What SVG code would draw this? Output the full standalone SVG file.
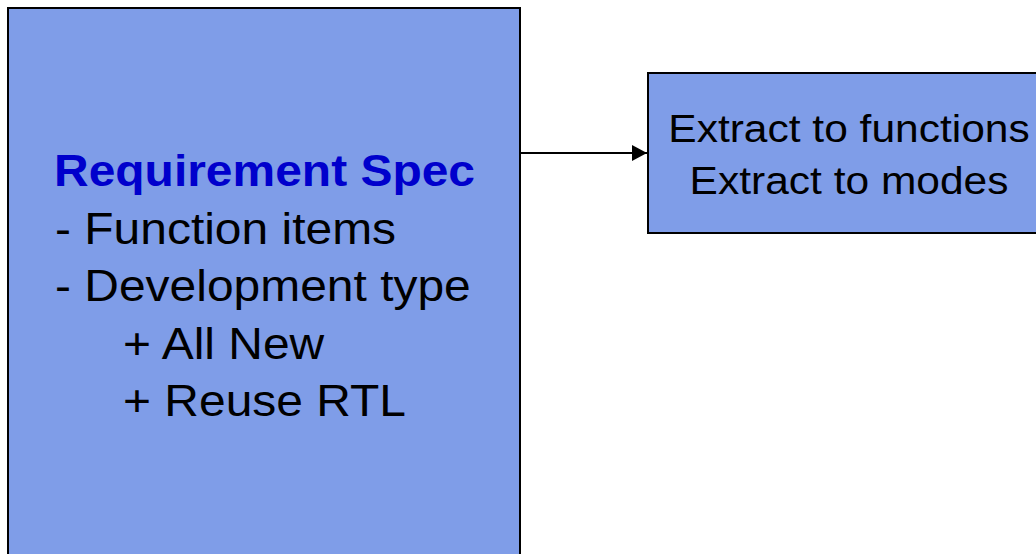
<svg xmlns="http://www.w3.org/2000/svg" width="1036" height="554" viewBox="0 0 1036 554">
<style>
.box{fill:#7F9DE8;stroke:#000;stroke-width:2}
.t{font-family:"Liberation Sans",Arial,sans-serif;fill:#000}
.l{font-size:44px}
.h{font-size:44px;font-weight:bold;fill:#0000CC}
.r{font-size:39px;text-anchor:middle}
.conn{stroke:#000;stroke-width:2;fill:none}
</style>
<defs>
<marker id="arr" markerWidth="16" markerHeight="16" refX="15" refY="8" orient="auto" markerUnits="userSpaceOnUse">
<path d="M0,0 L15,8 L0,16 Z" fill="#000"/>
</marker>
</defs>
<rect width="1036" height="554" fill="#fff"/>
<g id="connectors">
<line class="conn" x1="521" y1="153" x2="647" y2="153" marker-end="url(#arr)"/>
</g>
<g id="node-requirement">
<rect class="box" x="8" y="8" width="512" height="570"/>
<g transform="translate(54,186) scale(1.09,1)"><text class="t h" x="0" y="0">Requirement Spec</text></g>
<g transform="translate(55,243.5) scale(1.09,1)"><text class="t l" x="0" y="0">- Function items</text></g>
<g transform="translate(55,301) scale(1.09,1)"><text class="t l" x="0" y="0">- Development type</text></g>
<g transform="translate(123,358.5) scale(1.09,1)"><text class="t l" x="0" y="0">+ All New</text></g>
<g transform="translate(123,416) scale(1.09,1)"><text class="t l" x="0" y="0">+ Reuse RTL</text></g>
</g>
<g id="node-extract">
<rect class="box" x="648" y="73" width="420" height="160"/>
<g transform="translate(849,141.5) scale(1.09,1)"><text class="t r" x="0" y="0">Extract to functions</text></g>
<g transform="translate(849,193.5) scale(1.09,1)"><text class="t r" x="0" y="0">Extract to modes</text></g>
</g>
</svg>
